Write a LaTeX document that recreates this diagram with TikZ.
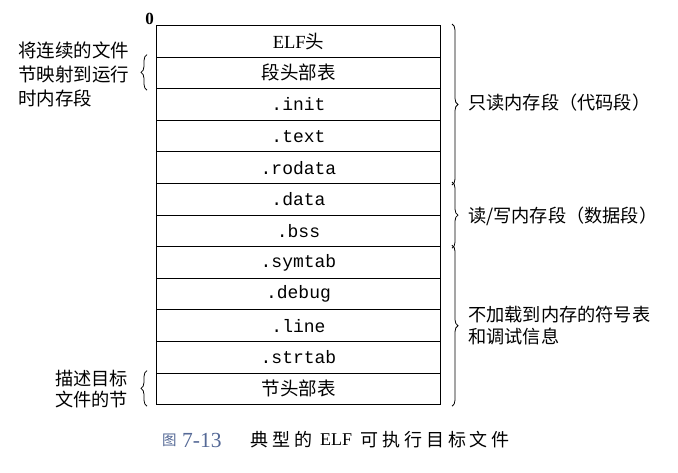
\documentclass[tikz,border=0pt]{standalone}
\usepackage{fontspec}
\setmainfont{Liberation Serif}
\setmonofont{Liberation Mono}
\newfontfamily\cjk{Noto Sans CJK SC}
\newfontfamily\cjkcap{Noto Sans CJK SC}[LetterSpace=22]
\usetikzlibrary{decorations.pathreplacing}
\definecolor{capblue}{RGB}{85,105,150}
\begin{document}
\begin{tikzpicture}[x=1pt,y=-1pt,
  rowbox/.style={draw, line width=1pt, minimum width=284pt, minimum height=31.6pt,
    inner sep=0pt, anchor=north west},
  cjkf/.style={font=\cjk\fontsize{18.5}{20}\selectfont},
  monof/.style={font=\ttfamily\fontsize{18}{20}\selectfont},
  brc/.style={decorate, decoration={brace, amplitude=6pt}, line width=0.8pt},
  lbl/.style={anchor=west, align=left, inner sep=0pt, font=\cjk\fontsize{18.2}{22}\selectfont},
  capf/.style={anchor=west, inner sep=0pt}]
\useasboundingbox (0,0) rectangle (678,472);
\node[rowbox, font=\rmfamily\fontsize{18.5}{20}\selectfont] (r1) at (156,25) {ELF{\cjk 头}};
\node[rowbox, cjkf] (r2) at (156,56.6) {段头部表};
\node[rowbox, monof] (r3) at (156,88.2) {.init};
\node[rowbox, monof] (r4) at (156,119.8) {.text};
\node[rowbox, monof] (r5) at (156,151.4) {.rodata};
\node[rowbox, monof] (r6) at (156,183) {.data};
\node[rowbox, monof] (r7) at (156,214.6) {.bss};
\node[rowbox, monof] (r8) at (156,246.2) {.symtab};
\node[rowbox, monof] (r9) at (156,277.8) {.debug};
\node[rowbox, monof] (r10) at (156,309.4) {.line};
\node[rowbox, monof] (r11) at (156,341) {.strtab};
\node[rowbox, cjkf] (r12) at (156,372.6) {节头部表};
\node[anchor=south east, inner sep=0.5pt, xshift=-1.5pt, font=\rmfamily\bfseries\fontsize{17}{18}\selectfont] (zero) at (r1.north west) {0};
% right braces
\draw[brc] ([xshift=11pt,yshift=1pt]r1.north east) -- ([xshift=11pt,yshift=-1pt]r5.south east);
\draw[brc] ([xshift=11pt,yshift=1pt]r6.north east) -- ([xshift=11pt,yshift=-1pt]r7.south east);
\draw[brc] ([xshift=11pt,yshift=1pt]r8.north east) -- ([xshift=11pt,yshift=-1pt]r12.south east);
% left braces
\draw[brc] ([xshift=-9pt,yshift=-1pt]r2.south west) -- ([xshift=-9pt,yshift=2pt]r2.north west);
\draw[brc] ([xshift=-9pt,yshift=-1pt]r12.south west) -- ([xshift=-9pt,yshift=2pt]r12.north west);
% labels
\node[lbl] (t1) at (468,103) {只读内存段（代码段）};
\node[lbl] (t2) at (468,216) {读/写内存段（数据段）};
\node[lbl, font=\cjk\fontsize{18.2}{22}\selectfont] (t3) at (468,326) {不加载到内存的符号表\\和调试信息};
\node[lbl, font=\cjk\fontsize{18.5}{24}\selectfont] (t4) at (18,74) {将连续的文件\\节映射到运行\\时内存段};
\node[lbl, font=\cjk\fontsize{18.2}{20.5}\selectfont] (t5) at (55,389) {描述目标\\文件的节};
% caption
\node[capf, text=capblue, font=\cjk\fontsize{14.5}{16}\selectfont] (cap1) at (162,440) {图};
\node[capf, text=capblue, font=\rmfamily\fontsize{21.5}{22}\selectfont] (cap2) at (182,440) {7-13};
\node[capf, font=\cjkcap\fontsize{18}{20}\selectfont] (cap3) at (250,440) {典型的};
\node[capf, font=\rmfamily\fontsize{18}{20}\selectfont] (cap4) at (320,440) {ELF};
\node[capf, font=\cjkcap\fontsize{18}{20}\selectfont] (cap5) at (360,440) {可执行目标文件};
\end{tikzpicture}
\end{document}
